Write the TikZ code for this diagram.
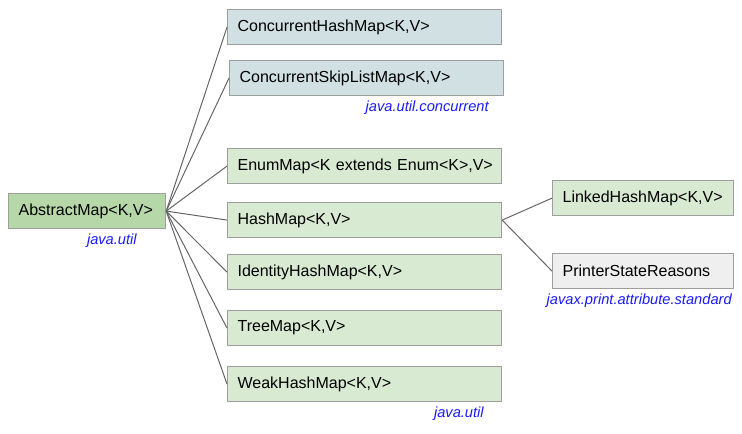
\documentclass[tikz,border=0pt]{standalone}
\usepackage{fontspec}
\setmainfont{Liberation Sans}
\usetikzlibrary{positioning}
\definecolor{boxline}{HTML}{9E9E9E}
\definecolor{linkline}{HTML}{666666}
\definecolor{cyanfill}{HTML}{D0E0E3}
\definecolor{greenfill}{HTML}{D9EAD3}
\definecolor{darkgreenfill}{HTML}{B6D7A8}
\definecolor{greyfill}{HTML}{EFEFEF}
\definecolor{pkgblue}{HTML}{1A1AFF}
\tikzset{
  cls/.style={draw=boxline, line width=0.9pt, anchor=north west, minimum height=26.25pt,
    inner xsep=7.5pt, inner ysep=0pt, align=left, font=\fontsize{12pt}{14pt}\selectfont},
  wide/.style={cls, text width=190.5pt},
  pkg/.style={anchor=east, text=pkgblue, inner sep=0pt, font=\fontsize{11pt}{13pt}\selectfont\itshape},
  link/.style={draw=linkline, line width=0.75pt}
}

\begin{document}
\begin{tikzpicture}[x=0.75pt,y=-0.75pt]
      \useasboundingbox (0,0) rectangle (742,434);
      \node[cls, fill=darkgreenfill, text width=102.75pt] (abstract) at (8,193) {AbstractMap<K,V>};
      \node[pkg] (utilA) at (137,241) {java.util};
      \node[wide, fill=cyanfill] (chm) at (227,9) {ConcurrentHashMap<K,V>};
      \node[wide, fill=cyanfill] (cslm) at (229,60) {ConcurrentSkipListMap<K,V>};
      \node[pkg] (concurrent) at (489,108) {java.util.concurrent};
      \node[wide, fill=greenfill] (enum) at (227,148) {\mbox{EnumMap<K extends Enum<K>,V>}};
      \node[wide, fill=greenfill] (hash) at (227,202) {HashMap<K,V>};
      \node[wide, fill=greenfill] (identity) at (227,254) {IdentityHashMap<K,V>};
      \node[wide, fill=greenfill] (tree) at (227,310) {TreeMap<K,V>};
      \node[wide, fill=greenfill] (weak) at (227,366) {WeakHashMap<K,V>};
      \node[pkg] (utilB) at (484,414) {java.util};
      \node[cls, fill=greenfill, text width=120.75pt] (linked) at (552,180) {LinkedHashMap<K,V>};
      \node[cls, fill=greyfill, text width=120.75pt] (printer) at (552,253) {PrinterStateReasons};
      \node[pkg] (standard) at (732,301) {javax.print.attribute.standard};
      \foreach \sub in {chm,cslm,enum,hash,identity,tree,weak}
        \draw[link] (abstract.east) to (\sub.west);
      \draw[link] (hash.east) to (linked.west);
      \draw[link] (hash.east) to (printer.west);
    \end{tikzpicture}
\end{document}
